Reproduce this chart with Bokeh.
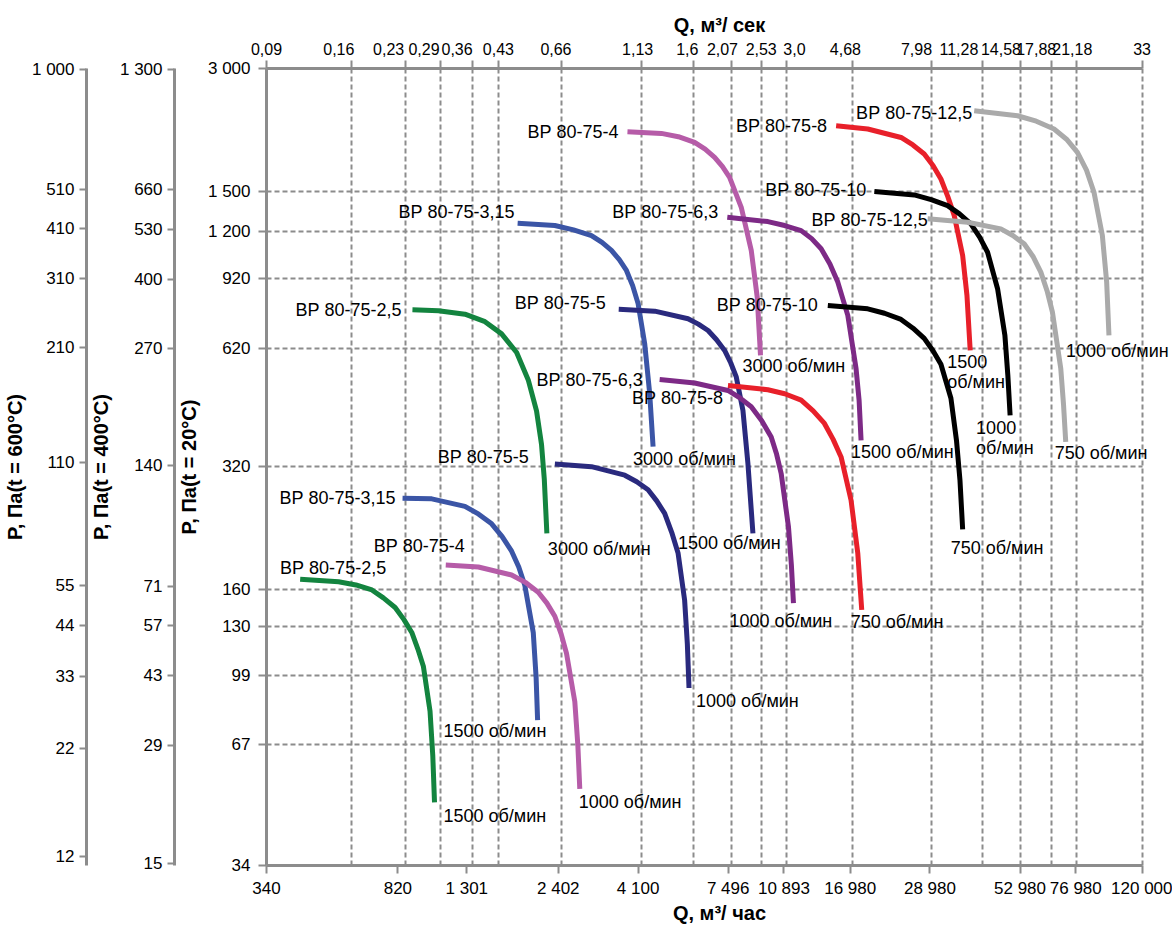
from bokeh.plotting import figure
from bokeh.models import Range1d, LogScale, LogAxis, FixedTicker, Grid, Label
from bokeh.embed import file_html
from bokeh.resources import INLINE

# ---------------- axis ticks ----------------
q_sec_ticks = [0.09, 0.16, 0.23, 0.29, 0.36, 0.43, 0.66, 1.13, 1.6, 2.07, 2.53, 3.0,
               4.68, 7.98, 11.28, 14.58, 17.88, 21.18, 33]
q_sec_labels = ["0,09", "0,16", "0,23", "0,29", "0,36", "0,43", "0,66", "1,13", "1,6", "2,07",
                "2,53", "3,0", "4,68", "7,98", "11,28", "14,58", "17,88", "21,18", "33"]
q_hour_ticks = [340, 820, 1301, 2402, 4100, 7496, 10893, 16980, 28980, 52980, 76980, 120000]
q_hour_labels = ["340", "820", "1 301", "2 402", "4 100", "7 496", "10 893", "16 980",
                 "28 980", "52 980", "76 980", "120 000"]
p20_ticks = [3000, 1500, 1200, 920, 620, 320, 160, 130, 99, 67, 34]
p20_labels = ["3 000", "1 500", "1 200", "920", "620", "320", "160", "130", "99", "67", "34"]
p400_ticks = [1300, 660, 530, 400, 270, 140, 71, 57, 43, 29, 15]
p400_labels = ["1 300", "660", "530", "400", "270", "140", "71", "57", "43", "29", "15"]
p600_ticks = [1000, 510, 410, 310, 210, 110, 55, 44, 33, 22, 12]
p600_labels = ["1 000", "510", "410", "310", "210", "110", "55", "44", "33", "22", "12"]

# density ratio of air relative to 20 °C
k400 = 293.15 / 673.15
k600 = 293.15 / 873.15

# ---------------- fan curves: Q (m3/h), P (Pa at 20 °C) ----------------
q_25_3000 = [904, 1076, 1285, 1470, 1643, 1817, 1964, 2076, 2147, 2187, 2225]
p_25_3000 = [773, 769, 754, 723, 675, 608, 521, 438, 362, 298, 220]
q_25_1500 = [426, 551, 619, 689, 744, 805, 853, 900, 938, 973, 1017, 1036, 1048]
p_25_1500 = [170, 167.5, 164.6, 160, 153, 145, 135.6, 126, 114.6, 104, 81, 63, 48.5]
q_315_3000 = [1829, 2347, 2660, 3000, 3219, 3430, 3615, 3792, 3955, 4100, 4285, 4431, 4533]
p_315_3000 = [1257, 1241, 1211, 1173, 1129, 1079, 1024, 964, 884, 800, 639, 483, 358]
q_315_1500 = [846, 1029, 1285, 1409, 1537, 1649, 1757, 1843, 1920, 2031, 2070, 2091]
p_315_1500 = [268, 267, 256, 245, 232, 216, 199, 182, 164, 126, 98, 77]
q_4_3000 = [3818, 4792, 5369, 5988, 6425, 6847, 7218, 7569, 8184, 8751, 9108, 9310]
p_4_3000 = [2102, 2083, 2045, 1980, 1906, 1820, 1728, 1627, 1375, 1079, 830, 598]
q_4_1000 = [1130, 1406, 1757, 1926, 2100, 2225, 2347, 2448, 2538, 2683, 2738, 2774]
p_4_1000 = [184, 182, 174, 167, 158, 148.6, 138, 125, 112, 85.4, 67, 52.3]
q_5_1500 = [3601, 4584, 5730, 6140, 6553, 6936, 7321, 7630, 7915, 8277, 8557, 8850]
p_5_1500 = [775, 767, 735, 713, 688, 653, 615, 573, 530, 439, 326, 220]
q_5_1000 = [2347, 3000, 3749, 4063, 4383, 4644, 4899, 5138, 5358, 5600, 5703, 5767]
p_5_1000 = [325, 320, 305, 294, 281, 264, 246, 221, 197, 151, 118, 92.2]
q_63_1500 = [7453, 9782, 10946, 12226, 13117, 13977, 14824, 15626, 16711, 17663, 18024, 18265]
p_63_1500 = [1300, 1269, 1241, 1206, 1153, 1089, 1000, 903, 749, 555, 465, 371]
q_63_1000 = [4737, 5988, 7487, 8109, 8751, 9388, 10003, 10373, 10693, 11230, 11451, 11611]
p_63_1000 = [522, 512, 491, 471, 448, 414, 378, 343, 308, 228, 184, 148.5]
q_8_1500 = [15454, 19104, 23875, 25850, 27890, 29573, 31188, 32663, 34102, 36075, 37130, 37946]
p_8_1500 = [2175, 2135, 2036, 1952, 1855, 1740, 1612, 1460, 1312, 1049, 838, 615]
q_8_750 = [7487, 9782, 10946, 12226, 13251, 14290, 15147, 15975, 17079, 17864, 18347]
p_8_750 = [505, 493, 482, 465, 438, 408, 373, 338, 265, 197, 143]
q_10_1000 = [19966, 26092, 29220, 32619, 35314, 38118, 40420, 42630, 45584, 47880, 48829, 49578]
p_10_1000 = [1502, 1474, 1436, 1388, 1325, 1253, 1163, 1068, 870, 669, 535, 427]
q_10_750 = [14617, 19104, 21369, 23875, 25866, 27890, 29573, 31188, 33348, 34612, 35428, 36075]
p_10_750 = [792, 777, 758, 732, 697, 658, 614, 569, 470, 371, 297, 225]
q_125_1000 = [38977, 52100, 59088, 66545, 72352, 77834, 82709, 86967, 91990, 94681, 96157]
p_125_1000 = [2366, 2300, 2231, 2135, 2016, 1872, 1694, 1496, 1173, 903, 669]
q_125_750 = [28534, 37296, 46585, 50498, 54465, 57798, 60904, 63521, 65834, 69623, 70909, 71970]
p_125_750 = [1289, 1264, 1218, 1173, 1120, 1043, 955, 859, 763, 555, 454, 368]

fan_names = ["ВР 80-75-2,5", "ВР 80-75-2,5", "ВР 80-75-3,15", "ВР 80-75-3,15",
             "ВР 80-75-4", "ВР 80-75-4", "ВР 80-75-5", "ВР 80-75-5",
             "ВР 80-75-6,3", "ВР 80-75-6,3", "ВР 80-75-8", "ВР 80-75-8",
             "ВР 80-75-10", "ВР 80-75-10", "ВР 80-75-12,5", "ВР 80-75-12,5"]
curve_q = [q_25_3000, q_25_1500, q_315_3000, q_315_1500, q_4_3000, q_4_1000,
           q_5_1500, q_5_1000, q_63_1500, q_63_1000, q_8_1500, q_8_750,
           q_10_1000, q_10_750, q_125_1000, q_125_750]
curve_p = [p_25_3000, p_25_1500, p_315_3000, p_315_1500, p_4_3000, p_4_1000,
           p_5_1500, p_5_1000, p_63_1500, p_63_1000, p_8_1500, p_8_750,
           p_10_1000, p_10_750, p_125_1000, p_125_750]
# speed labels at the end of curves: (curve index, text line)
rpm_curve = [0, 1, 2, 3, 4, 5, 6, 7, 8, 9, 10, 10, 11, 12, 12, 13, 14, 15]
rpm_texts = ["3000 об/мин", "1500 об/мин", "3000 об/мин", "1500 об/мин",
             "3000 об/мин", "1000 об/мин", "1500 об/мин", "1000 об/мин",
             "1500 об/мин", "1000 об/мин", "1500", "об/мин", "750 об/мин",
             "1000", "об/мин", "750 об/мин", "1000 об/мин", "750 об/мин"]

# ---------------- styles / layout ----------------
GREEN, BLUE, MAGENTA, NAVY = "#13843f", "#3b55a6", "#b65ca8", "#2a2a7e"
PURPLE, RED, BLACK, LGRAY = "#7d2a86", "#e8202a", "#000000", "#aaaaaa"
curve_colors = [GREEN, GREEN, BLUE, BLUE, MAGENTA, MAGENTA, NAVY, NAVY,
                PURPLE, PURPLE, RED, RED, BLACK, BLACK, LGRAY, LGRAY]
# screen offsets in px (dy downwards) of the name label's right edge from the curve's first point
name_dx = [-11, 86, -3, -7, -9, 19, -13, -26, -9, -17, -9, -5, -8, -10, -2, 0]
name_dy = [0, -11, -11, 0, 0, -19, -6, -7, -5, 0, 0, 13, -2, 0, 2, 1]
# screen offsets in px (dy downwards) of the speed label's left edge from the curve's last point
rpm_dx = [1, 9, -20, -94, -18, -1, -75, 7, -10, -64, -23, -23, -11, -34, -34, -12, -43, -11]
rpm_dy = [16, 14, 12, 11, 11, 13, 10, 13, 12, 18, 11, 32, 12, 12, 33, 19, 16, 11]
# horizontal shift in px of the top tick labels, as placed in the original
top_label_dx = [0, -13, -17, -16, -15, 0, -6, -4, -6, -9, 0, 8, -7, -15, -24, -20, -15, -4, 0]

FONT = "Liberation Sans"
AXGRAY = "#8c8c8c"
W, H = 1172, 926
LEFT = 265
AXIS_PX = 876.5                     # pixel length of the drawn axes
ext = (W - LEFT - AXIS_PX) / AXIS_PX  # free room right of the axes (for labels)
x_end = q_hour_ticks[-1] * (q_hour_ticks[-1] / q_hour_ticks[0]) ** ext
sec_end = q_sec_ticks[-1] * (q_sec_ticks[-1] / q_sec_ticks[0]) ** ext
sec_span = q_sec_ticks[-1] / q_sec_ticks[0]

p = figure(x_axis_type="log", y_axis_type="log",
           x_range=Range1d(q_hour_ticks[0], x_end), y_range=Range1d(34, 3000),
           width=W, height=H,
           min_border_left=LEFT, min_border_right=0, min_border_top=68, min_border_bottom=58,
           output_backend="svg", toolbar_location=None)
p.outline_line_color = None
p.background_fill_color = "white"
p.border_fill_color = "white"

p.extra_x_ranges = {"sec": Range1d(q_sec_ticks[0], sec_end)}
p.extra_x_scales = {"sec": LogScale()}
p.extra_y_ranges = {"t400": Range1d(34 * k400, 3000 * k400),
                    "t600": Range1d(34 * k600, 3000 * k600)}
p.extra_y_scales = {"t400": LogScale(), "t600": LogScale()}


def style_axis(ax, tick_out=8, standoff=6, label_standoff=8, size="17px"):
    ax.axis_line_color = AXGRAY
    ax.axis_line_width = 3
    ax.major_tick_line_color = AXGRAY
    ax.major_tick_line_width = 2
    ax.major_tick_out = tick_out
    ax.major_tick_in = 0
    ax.minor_tick_line_color = None
    ax.major_label_text_font = FONT
    ax.major_label_text_font_size = size
    ax.major_label_text_color = "black"
    ax.major_label_standoff = standoff
    ax.axis_label_text_font = FONT
    ax.axis_label_text_font_size = "20px"
    ax.axis_label_text_font_style = "bold"
    ax.axis_label_text_color = "black"
    ax.axis_label_standoff = label_standoff


# bottom axis (m3/h)
bx = p.xaxis[0]
bx.ticker = FixedTicker(ticks=q_hour_ticks)
bx.major_label_overrides = dict(zip(q_hour_ticks, q_hour_labels))
bx.bounds = (q_hour_ticks[0], q_hour_ticks[-1])
bx.axis_label = "Q, м³/ час"
style_axis(bx, tick_out=8, standoff=5, label_standoff=1)

# main left axis (20 °C)
ly = p.yaxis[0]
ly.ticker = FixedTicker(ticks=p20_ticks)
ly.major_label_overrides = dict(zip(p20_ticks, p20_labels))
ly.axis_label = "P, Па(t = 20°C)"
style_axis(ly, tick_out=8, standoff=8, label_standoff=5)

ax400 = LogAxis(y_range_name="t400", ticker=FixedTicker(ticks=p400_ticks),
                major_label_overrides=dict(zip(p400_ticks, p400_labels)),
                axis_label="P, Па(t = 400°C)")
style_axis(ax400, tick_out=7, standoff=5, label_standoff=5)
p.add_layout(ax400, "left")

ax600 = LogAxis(y_range_name="t600", ticker=FixedTicker(ticks=p600_ticks),
                major_label_overrides=dict(zip(p600_ticks, p600_labels)),
                axis_label="P, Па(t = 600°C)")
style_axis(ax600, tick_out=7, standoff=5, label_standoff=3)
p.add_layout(ax600, "left")

# top axis (m3/s): the ruled axis with its ticks ...
tx = LogAxis(x_range_name="sec", ticker=FixedTicker(ticks=q_sec_ticks),
             major_label_overrides={t: "" for t in q_sec_ticks},
             bounds=(q_sec_ticks[0], q_sec_ticks[-1]))
style_axis(tx, tick_out=8, standoff=0, label_standoff=0, size="0px")
p.add_layout(tx, "above")
# ... and its labels, nudged sideways the way the original places them
lab_pos = [t * sec_span ** (dx / AXIS_PX) for t, dx in zip(q_sec_ticks, top_label_dx)]
tl = LogAxis(x_range_name="sec", ticker=FixedTicker(ticks=lab_pos),
             major_label_overrides=dict(zip(lab_pos, q_sec_labels)),
             axis_label="Q, м³/ сек")
style_axis(tl, tick_out=0, standoff=6, label_standoff=4, size="16px")
tl.axis_line_color = None
tl.major_tick_line_color = None
p.add_layout(tl, "above")

# grids
p.xgrid.visible = False
p.ygrid.ticker = FixedTicker(ticks=p20_ticks)
p.ygrid.grid_line_color = AXGRAY
p.ygrid.grid_line_width = 2
p.ygrid.grid_line_dash = "5 3"
p.ygrid.cross_bounds = (q_hour_ticks[0], q_hour_ticks[-1])
xg = Grid(dimension=0, ticker=FixedTicker(ticks=q_sec_ticks), x_range_name="sec",
          grid_line_color=AXGRAY, grid_line_width=2, grid_line_dash="5 3")
p.add_layout(xg)

# curves
for q, pr, col in zip(curve_q, curve_p, curve_colors):
    p.line(q, pr, line_color=col, line_width=5)

# fan-size labels (Label y_offset is positive upwards)
for q, pr, name, dx, dy in zip(curve_q, curve_p, fan_names, name_dx, name_dy):
    p.add_layout(Label(x=q[0], y=pr[0], text=name, x_offset=dx, y_offset=-dy,
                       text_align="right", text_baseline="middle",
                       text_font=FONT, text_font_size="18px", text_color="black"))

# speed labels
for i, txt, dx, dy in zip(rpm_curve, rpm_texts, rpm_dx, rpm_dy):
    p.add_layout(Label(x=curve_q[i][-1], y=curve_p[i][-1], text=txt, x_offset=dx, y_offset=-dy,
                       text_align="left", text_baseline="middle",
                       text_font=FONT, text_font_size="18px", text_color="black"))

open("out.html", "w").write(file_html(p, INLINE))
